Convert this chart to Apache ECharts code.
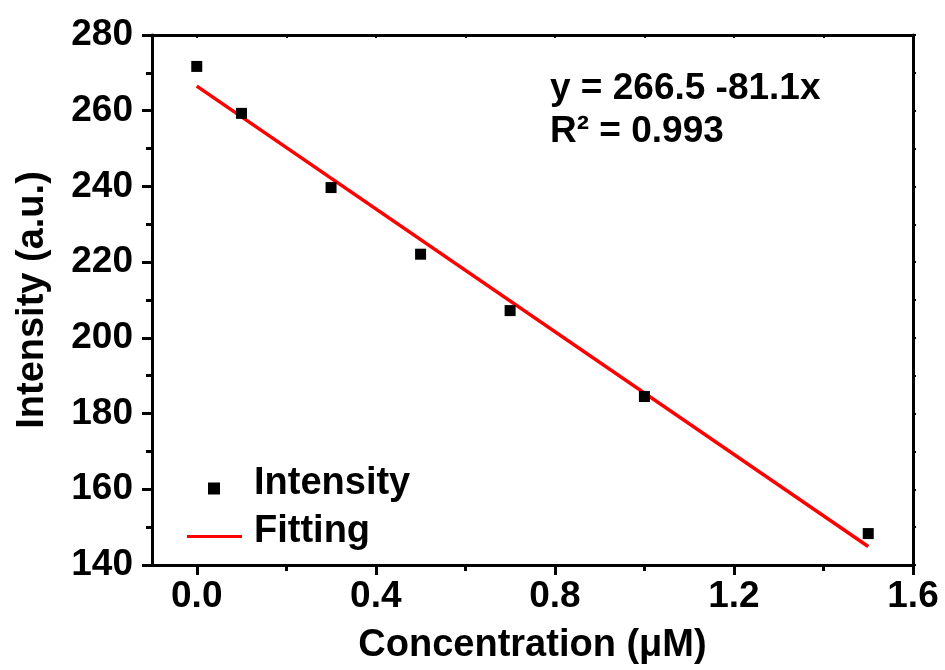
<!DOCTYPE html>
<html>
<head>
<meta charset="utf-8">
<script src="https://cdn.jsdelivr.net/npm/echarts@6/dist/echarts.min.js"></script>
<style>
  html, body { margin: 0; padding: 0; background: #fff; }
  #chart { width: 945px; height: 670px; }
</style>
</head>
<body>
<div id="chart"></div>
<script>
// 数据
const concentration = [0, 0.1, 0.3, 0.5, 0.7, 1.0, 1.5];
const intensity = [271.7, 259.3, 239.7, 222.1, 207.2, 184.5, 148.3];
const fitX = [0, 1.5];
const fitY = [266.5, 144.9];
const xMajorTicks = [0, 0.4, 0.8, 1.2, 1.6];
const xMinorTicks = [0.2, 0.6, 1.0, 1.4];
const equationLines = ["y = 266.5 -81.1x", "R\u00b2 = 0.993"];

const font = "'Liberation Sans', Arial, sans-serif";
const black = "#000";

const chart = echarts.init(document.getElementById("chart"));

const options = {
  animation: false,
  grid: { left: 152, right: 32, top: 35, bottom: 101 },
  legend: [
    {
      // 图标下移：路径顶部留空
      data: [{ name: "Intensity", icon: "path://M0,-9M0,0h12v12h-12z" }],
      left: 208,
      top: 465,
      padding: 0,
      itemWidth: 12,
      itemHeight: 21,
      selectedMode: false,
      itemStyle: { color: black, opacity: 1 },
      textStyle: {
        fontFamily: font, fontWeight: "bold", fontSize: 38, color: black,
        padding: [0, 0, 0, 29],
      },
    },
    {
      data: [{ name: "Fitting", icon: "path://M0,-9M0,0h55v3h-55z" }],
      left: 187,
      top: 513,
      padding: 0,
      itemWidth: 55,
      itemHeight: 12,
      selectedMode: false,
      textStyle: {
        fontFamily: font, fontWeight: "bold", fontSize: 38, color: black,
        padding: [0, 0, 0, 7],
      },
    },
  ],
  xAxis: [
    {
      type: "value",
      position: "bottom",
      min: -0.1,
      max: 1.6,
      name: "Concentration (μM)",
      nameLocation: "middle",
      nameGap: 62,
      nameTextStyle: { fontFamily: font, fontWeight: "bold", fontSize: 38, color: black },
      axisLine: { show: true, onZero: false, lineStyle: { color: black, width: 3 } },
      axisTick: { show: true, customValues: xMajorTicks, length: 10, lineStyle: { width: 3, color: black } },
      axisLabel: {
        customValues: xMajorTicks,
        margin: 13,
        fontFamily: font, fontWeight: "bold", fontSize: 37, color: black,
        formatter: (v) => v.toFixed(1),
      },
      splitLine: { show: false },
    },
    {
      // 次刻度
      type: "value",
      position: "bottom",
      min: -0.1,
      max: 1.6,
      axisLine: { show: false, onZero: false },
      axisTick: { show: true, customValues: xMinorTicks, length: 6, lineStyle: { width: 3, color: black } },
      axisLabel: { show: false },
      splitLine: { show: false },
    },
    {
      type: "value",
      position: "top",
      min: -0.1,
      max: 1.6,
      axisLine: { show: true, onZero: false, lineStyle: { color: black, width: 3 } },
      axisTick: { show: true, inside: true, customValues: xMajorTicks.concat(xMinorTicks), length: 3, lineStyle: { width: 2, color: black } },
      axisLabel: { show: false },
      splitLine: { show: false },
    },
  ],
  yAxis: [
    {
      type: "value",
      position: "left",
      min: 140,
      max: 280,
      interval: 20,
      name: "Intensity (a.u.)",
      nameLocation: "middle",
      nameRotate: 90,
      nameGap: 100,
      nameTextStyle: { fontFamily: font, fontWeight: "bold", fontSize: 38, color: black },
      axisLine: { show: true, onZero: false, lineStyle: { color: black, width: 3 } },
      axisTick: { show: true, length: 10, lineStyle: { width: 3, color: black } },
      minorTick: { show: true, splitNumber: 2, length: 6, lineStyle: { width: 3, color: black } },
      axisLabel: { margin: 19, fontFamily: font, fontWeight: "bold", fontSize: 37, color: black },
      splitLine: { show: false },
    },
    {
      type: "value",
      position: "right",
      min: 140,
      max: 280,
      interval: 20,
      axisLine: { show: true, onZero: false, lineStyle: { color: black, width: 3 } },
      axisTick: { show: true, length: 3, lineStyle: { width: 2, color: black } },
      minorTick: { show: true, splitNumber: 2, length: 3, lineStyle: { width: 2, color: black } },
      axisLabel: { show: false },
      splitLine: { show: false },
    },
  ],
  series: [
    {
      name: "Intensity",
      type: "scatter",
      symbol: "rect",
      symbolSize: 11,
      itemStyle: { color: black, opacity: 1 },
      data: concentration.map((x, i) => [x, intensity[i]]),
      z: 3,
    },
    {
      name: "Fitting",
      type: "line",
      showSymbol: false,
      symbol: "none",
      itemStyle: { color: "#ff0000" },
      lineStyle: { color: "#ff0000", width: 3.5 },
      data: fitX.map((x, i) => [x, fitY[i]]),
      z: 2,
    },
  ],
  graphic: equationLines.map((t, i) => ({
    type: "text",
    left: 550,
    top: 70 + i * 43,
    style: {
      text: t,
      fontFamily: font,
      fontWeight: "bold",
      fontSize: 37,
      fill: black,
    },
  })),
};

chart.setOption(options);

window.addEventListener("resize", () => {
  chart.resize();
});
</script>
</body>
</html>
